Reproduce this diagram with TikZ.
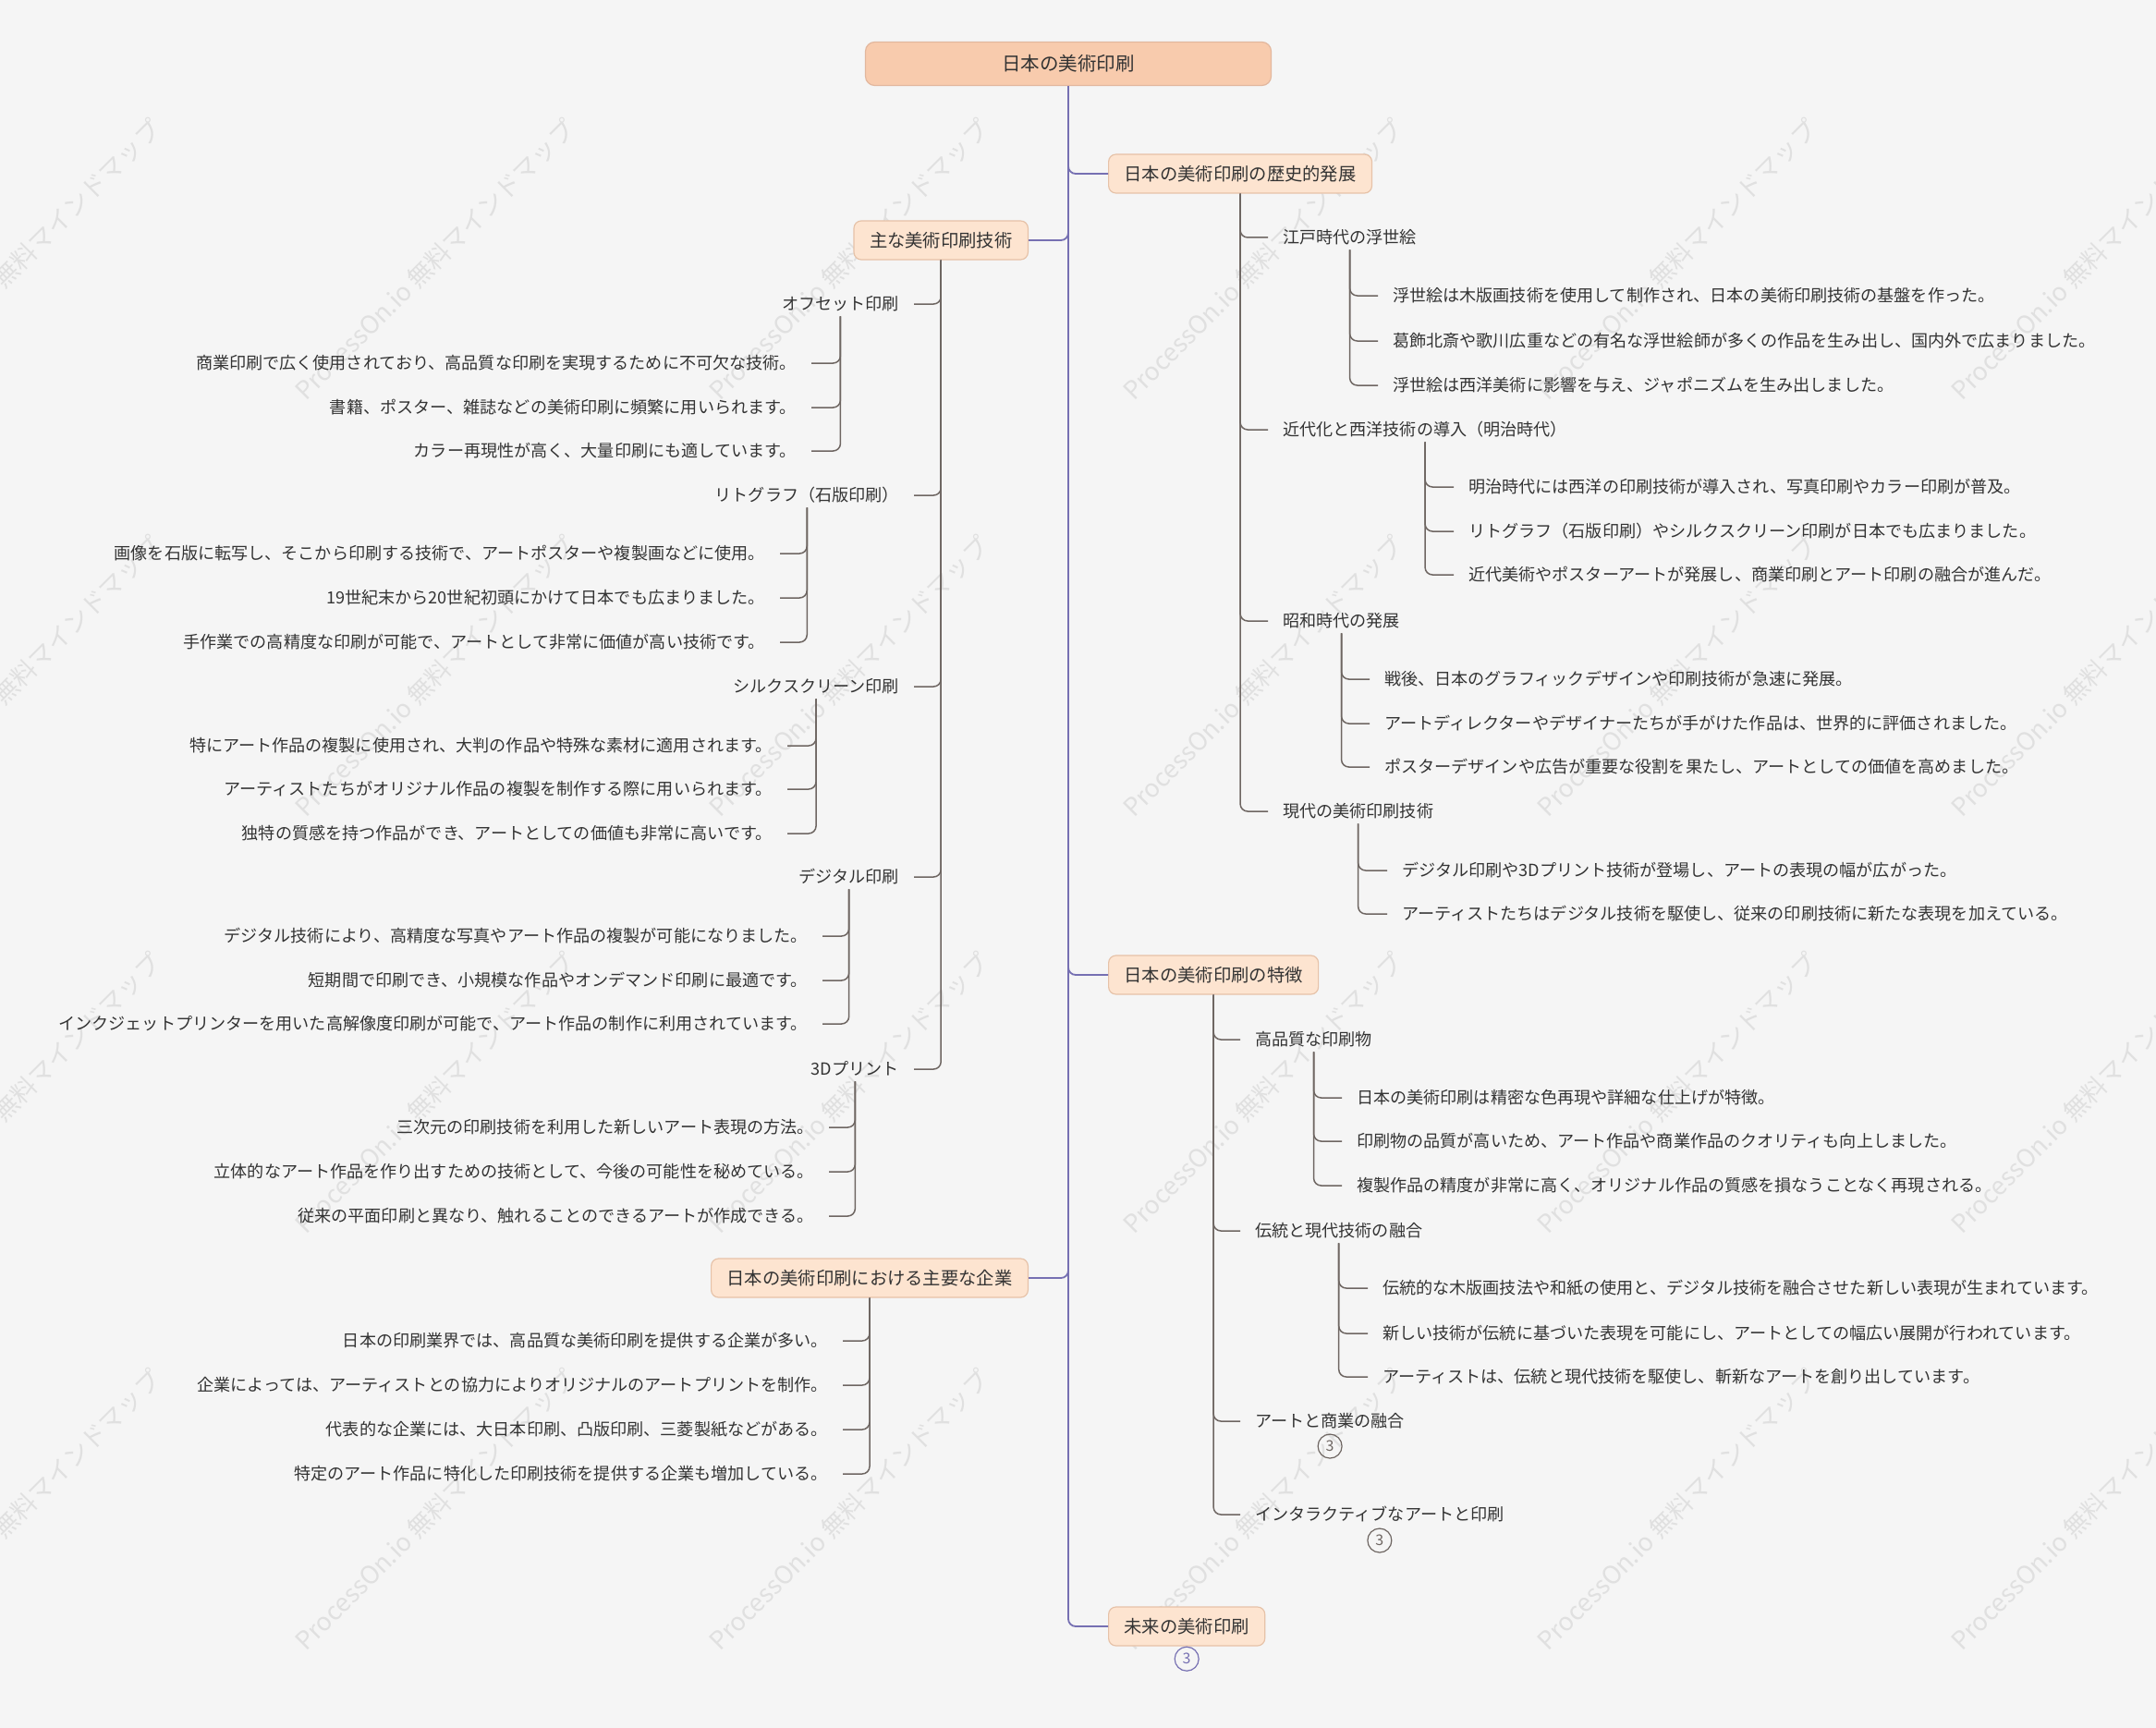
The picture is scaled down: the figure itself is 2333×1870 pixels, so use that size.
\documentclass[tikz,border=0pt]{standalone}
\usepackage{fontspec}
\setmainfont{Noto Sans CJK JP}
\usetikzlibrary{positioning}
\definecolor{canvas}{HTML}{F5F5F5}
\definecolor{rootfill}{HTML}{F8CBAD}
\definecolor{rootline}{HTML}{E2B79E}
\definecolor{topicfill}{HTML}{FDE4D0}
\definecolor{topicline}{HTML}{E6C2A8}
\definecolor{trunk}{HTML}{7670B2}
\definecolor{twig}{HTML}{6E6662}
\definecolor{ink}{HTML}{333333}
\definecolor{wmgray}{HTML}{E0E0E0}

\begin{document}
\begin{tikzpicture}[x=1pt, y=-1pt,
  root/.style={draw=rootline, fill=rootfill, line width=1.2pt, rounded corners=10pt, minimum width=439pt, minimum height=47pt, font=\fontsize{20.5}{24}\selectfont, text=ink},
  topic/.style={draw=topicline, fill=topicfill, line width=1.2pt, rounded corners=8pt, minimum height=42pt, inner xsep=17pt, font=\fontsize{19.3}{23}\selectfont, text=ink},
  item/.style={inner xsep=16pt, inner ysep=4pt, text height=15.5pt, text depth=3pt, font=\fontsize{18.1}{22}\selectfont, text=ink},
  ritem/.style={item, anchor=west},
  litem/.style={item, anchor=east},
  count/.style={circle, draw=twig, line width=1.2pt, text=twig, minimum size=26pt, inner sep=0pt, font=\fontsize{16}{18}\selectfont},
  trunkline/.style={draw=trunk, line width=1.8pt, rounded corners=8pt},
  twigline/.style={draw=twig, line width=1.5pt, rounded corners=8pt},
  watermark/.style={text=wmgray, rotate=45, anchor=base west, font=\fontsize{27}{31}\selectfont}]
	\useasboundingbox (0,0) rectangle (2333,1870);
	\fill[canvas] (0,0) rectangle (2333,1870);
	% watermark
	\begin{scope}
	\clip (0,0) rectangle (2333,1870);
	\foreach \wx in {-119,329,777,1225,1673,2121}
	  \foreach \wy in {437,888,1339,1790}
	    \node[watermark] (wm-\wx-\wy) at (\wx,\wy) {ProcessOn.io 無料マインドマップ};
	\end{scope}

	\node[root] (root) at (1156,69) {日本の美術印刷};
	\node[topic, anchor=west] (hist) at (1199,188) {日本の美術印刷の歴史的発展};
	\node[topic, anchor=east] (main) at (1113,260) {主な美術印刷技術};
	\node[topic, anchor=west] (feat) at (1199,1055) {日本の美術印刷の特徴};
	\node[topic, anchor=east] (corp) at (1113,1383) {日本の美術印刷における主要な企業};
	\node[topic, anchor=west] (future) at (1199,1760) {未来の美術印刷};
	\node[count, draw=trunk, text=trunk, below=0pt of future] (futurecount) {3};

	% history
	\node[ritem] (edo) at (1372,257) {江戸時代の浮世絵};
	\node[ritem] (edoa) at (1491,320) {浮世絵は木版画技術を使用して制作され、日本の美術印刷技術の基盤を作った。};
	\node[ritem] (edob) at (1491,369) {葛飾北斎や歌川広重などの有名な浮世絵師が多くの作品を生み出し、国内外で広まりました。};
	\node[ritem] (edoc) at (1491,417) {浮世絵は西洋美術に影響を与え、ジャポニズムを生み出しました。};
	\node[ritem] (meiji) at (1372,465) {近代化と西洋技術の導入（明治時代）};
	\node[ritem] (meijia) at (1573,527) {明治時代には西洋の印刷技術が導入され、写真印刷やカラー印刷が普及。};
	\node[ritem] (meijib) at (1573,575) {リトグラフ（石版印刷）やシルクスクリーン印刷が日本でも広まりました。};
	\node[ritem] (meijic) at (1573,622) {近代美術やポスターアートが発展し、商業印刷とアート印刷の融合が進んだ。};
	\node[ritem] (showa) at (1372,672) {昭和時代の発展};
	\node[ritem] (showaa) at (1482,735) {戦後、日本のグラフィックデザインや印刷技術が急速に発展。};
	\node[ritem] (showab) at (1482,783) {アートディレクターやデザイナーたちが手がけた作品は、世界的に評価されました。};
	\node[ritem] (showac) at (1482,830) {ポスターデザインや広告が重要な役割を果たし、アートとしての価値を高めました。};
	\node[ritem] (modern) at (1372,878) {現代の美術印刷技術};
	\node[ritem] (moderna) at (1501,942) {デジタル印刷や3Dプリント技術が登場し、アートの表現の幅が広がった。};
	\node[ritem] (modernb) at (1501,989) {アーティストたちはデジタル技術を駆使し、従来の印刷技術に新たな表現を加えている。};

	% features
	\node[ritem] (hq) at (1342,1125) {高品質な印刷物};
	\node[ritem] (hqa) at (1452,1188) {日本の美術印刷は精密な色再現や詳細な仕上げが特徴。};
	\node[ritem] (hqb) at (1452,1235) {印刷物の品質が高いため、アート作品や商業作品のクオリティも向上しました。};
	\node[ritem] (hqc) at (1452,1283) {複製作品の精度が非常に高く、オリジナル作品の質感を損なうことなく再現される。};
	\node[ritem] (trad) at (1342,1332) {伝統と現代技術の融合};
	\node[ritem] (trada) at (1480,1394) {伝統的な木版画技法や和紙の使用と、デジタル技術を融合させた新しい表現が生まれています。};
	\node[ritem] (tradb) at (1480,1443) {新しい技術が伝統に基づいた表現を可能にし、アートとしての幅広い展開が行われています。};
	\node[ritem] (tradc) at (1480,1490) {アーティストは、伝統と現代技術を駆使し、斬新なアートを創り出しています。};
	\node[ritem] (art) at (1342,1538) {アートと商業の融合};
	\node[count, below=0pt of art] (artcount) {3};
	\node[ritem] (inter) at (1342,1639) {インタラクティブなアートと印刷};
	\node[count, below=1pt of inter] (intercount) {3};

	% techniques
	\node[litem] (offset) at (989,329) {オフセット印刷};
	\node[litem] (offa) at (878,393) {商業印刷で広く使用されており、高品質な印刷を実現するために不可欠な技術。};
	\node[litem] (offb) at (878,441) {書籍、ポスター、雑誌などの美術印刷に頻繁に用いられます。};
	\node[litem] (offc) at (878,488) {カラー再現性が高く、大量印刷にも適しています。};
	\node[litem] (litho) at (989,536) {リトグラフ（石版印刷）};
	\node[litem] (lithoa) at (844,599) {画像を石版に転写し、そこから印刷する技術で、アートポスターや複製画などに使用。};
	\node[litem] (lithob) at (844,647) {19世紀末から20世紀初頭にかけて日本でも広まりました。};
	\node[litem] (lithoc) at (844,695) {手作業での高精度な印刷が可能で、アートとして非常に価値が高い技術です。};
	\node[litem] (silk) at (989,743) {シルクスクリーン印刷};
	\node[litem] (silka) at (852,807) {特にアート作品の複製に使用され、大判の作品や特殊な素材に適用されます。};
	\node[litem] (silkb) at (852,854) {アーティストたちがオリジナル作品の複製を制作する際に用いられます。};
	\node[litem] (silkc) at (852,902) {独特の質感を持つ作品ができ、アートとしての価値も非常に高いです。};
	\node[litem] (digital) at (989,949) {デジタル印刷};
	\node[litem] (diga) at (890,1013) {デジタル技術により、高精度な写真やアート作品の複製が可能になりました。};
	\node[litem] (digb) at (890,1061) {短期間で印刷でき、小規模な作品やオンデマンド印刷に最適です。};
	\node[litem] (digc) at (890,1108) {インクジェットプリンターを用いた高解像度印刷が可能で、アート作品の制作に利用されています。};
	\node[litem] (solid) at (989,1157) {3Dプリント};
	\node[litem] (solida) at (897,1220) {三次元の印刷技術を利用した新しいアート表現の方法。};
	\node[litem] (solidb) at (897,1268) {立体的なアート作品を作り出すための技術として、今後の可能性を秘めている。};
	\node[litem] (solidc) at (897,1316) {従来の平面印刷と異なり、触れることのできるアートが作成できる。};

	% companies
	\node[litem] (corpa) at (912,1451) {日本の印刷業界では、高品質な美術印刷を提供する企業が多い。};
	\node[litem] (corpb) at (912,1499) {企業によっては、アーティストとの協力によりオリジナルのアートプリントを制作。};
	\node[litem] (corpc) at (912,1547) {代表的な企業には、大日本印刷、凸版印刷、三菱製紙などがある。};
	\node[litem] (corpd) at (912,1595) {特定のアート作品に特化した印刷技術を提供する企業も増加している。};

	% connectors
	\foreach \c in {hist, feat, future}
	  \draw[trunkline] (root.south) |- (\c.west);
	\foreach \c in {main, corp}
	  \draw[trunkline] (root.south) |- (\c.east);
	\foreach \p/\c in {hist/edo, hist/meiji, hist/showa, hist/modern,
	    edo/edoa, edo/edob, edo/edoc, meiji/meijia, meiji/meijib, meiji/meijic,
	    showa/showaa, showa/showab, showa/showac, modern/moderna, modern/modernb,
	    feat/hq, feat/trad, feat/art, feat/inter,
	    hq/hqa, hq/hqb, hq/hqc, trad/trada, trad/tradb, trad/tradc}
	  \draw[twigline] (\p.south) |- (\c.west);
	\foreach \p/\c in {main/offset, main/litho, main/silk, main/digital, main/solid,
	    offset/offa, offset/offb, offset/offc, litho/lithoa, litho/lithob, litho/lithoc,
	    silk/silka, silk/silkb, silk/silkc, digital/diga, digital/digb, digital/digc,
	    solid/solida, solid/solidb, solid/solidc,
	    corp/corpa, corp/corpb, corp/corpc, corp/corpd}
	  \draw[twigline] (\p.south) |- (\c.east);
\end{tikzpicture}
\end{document}
